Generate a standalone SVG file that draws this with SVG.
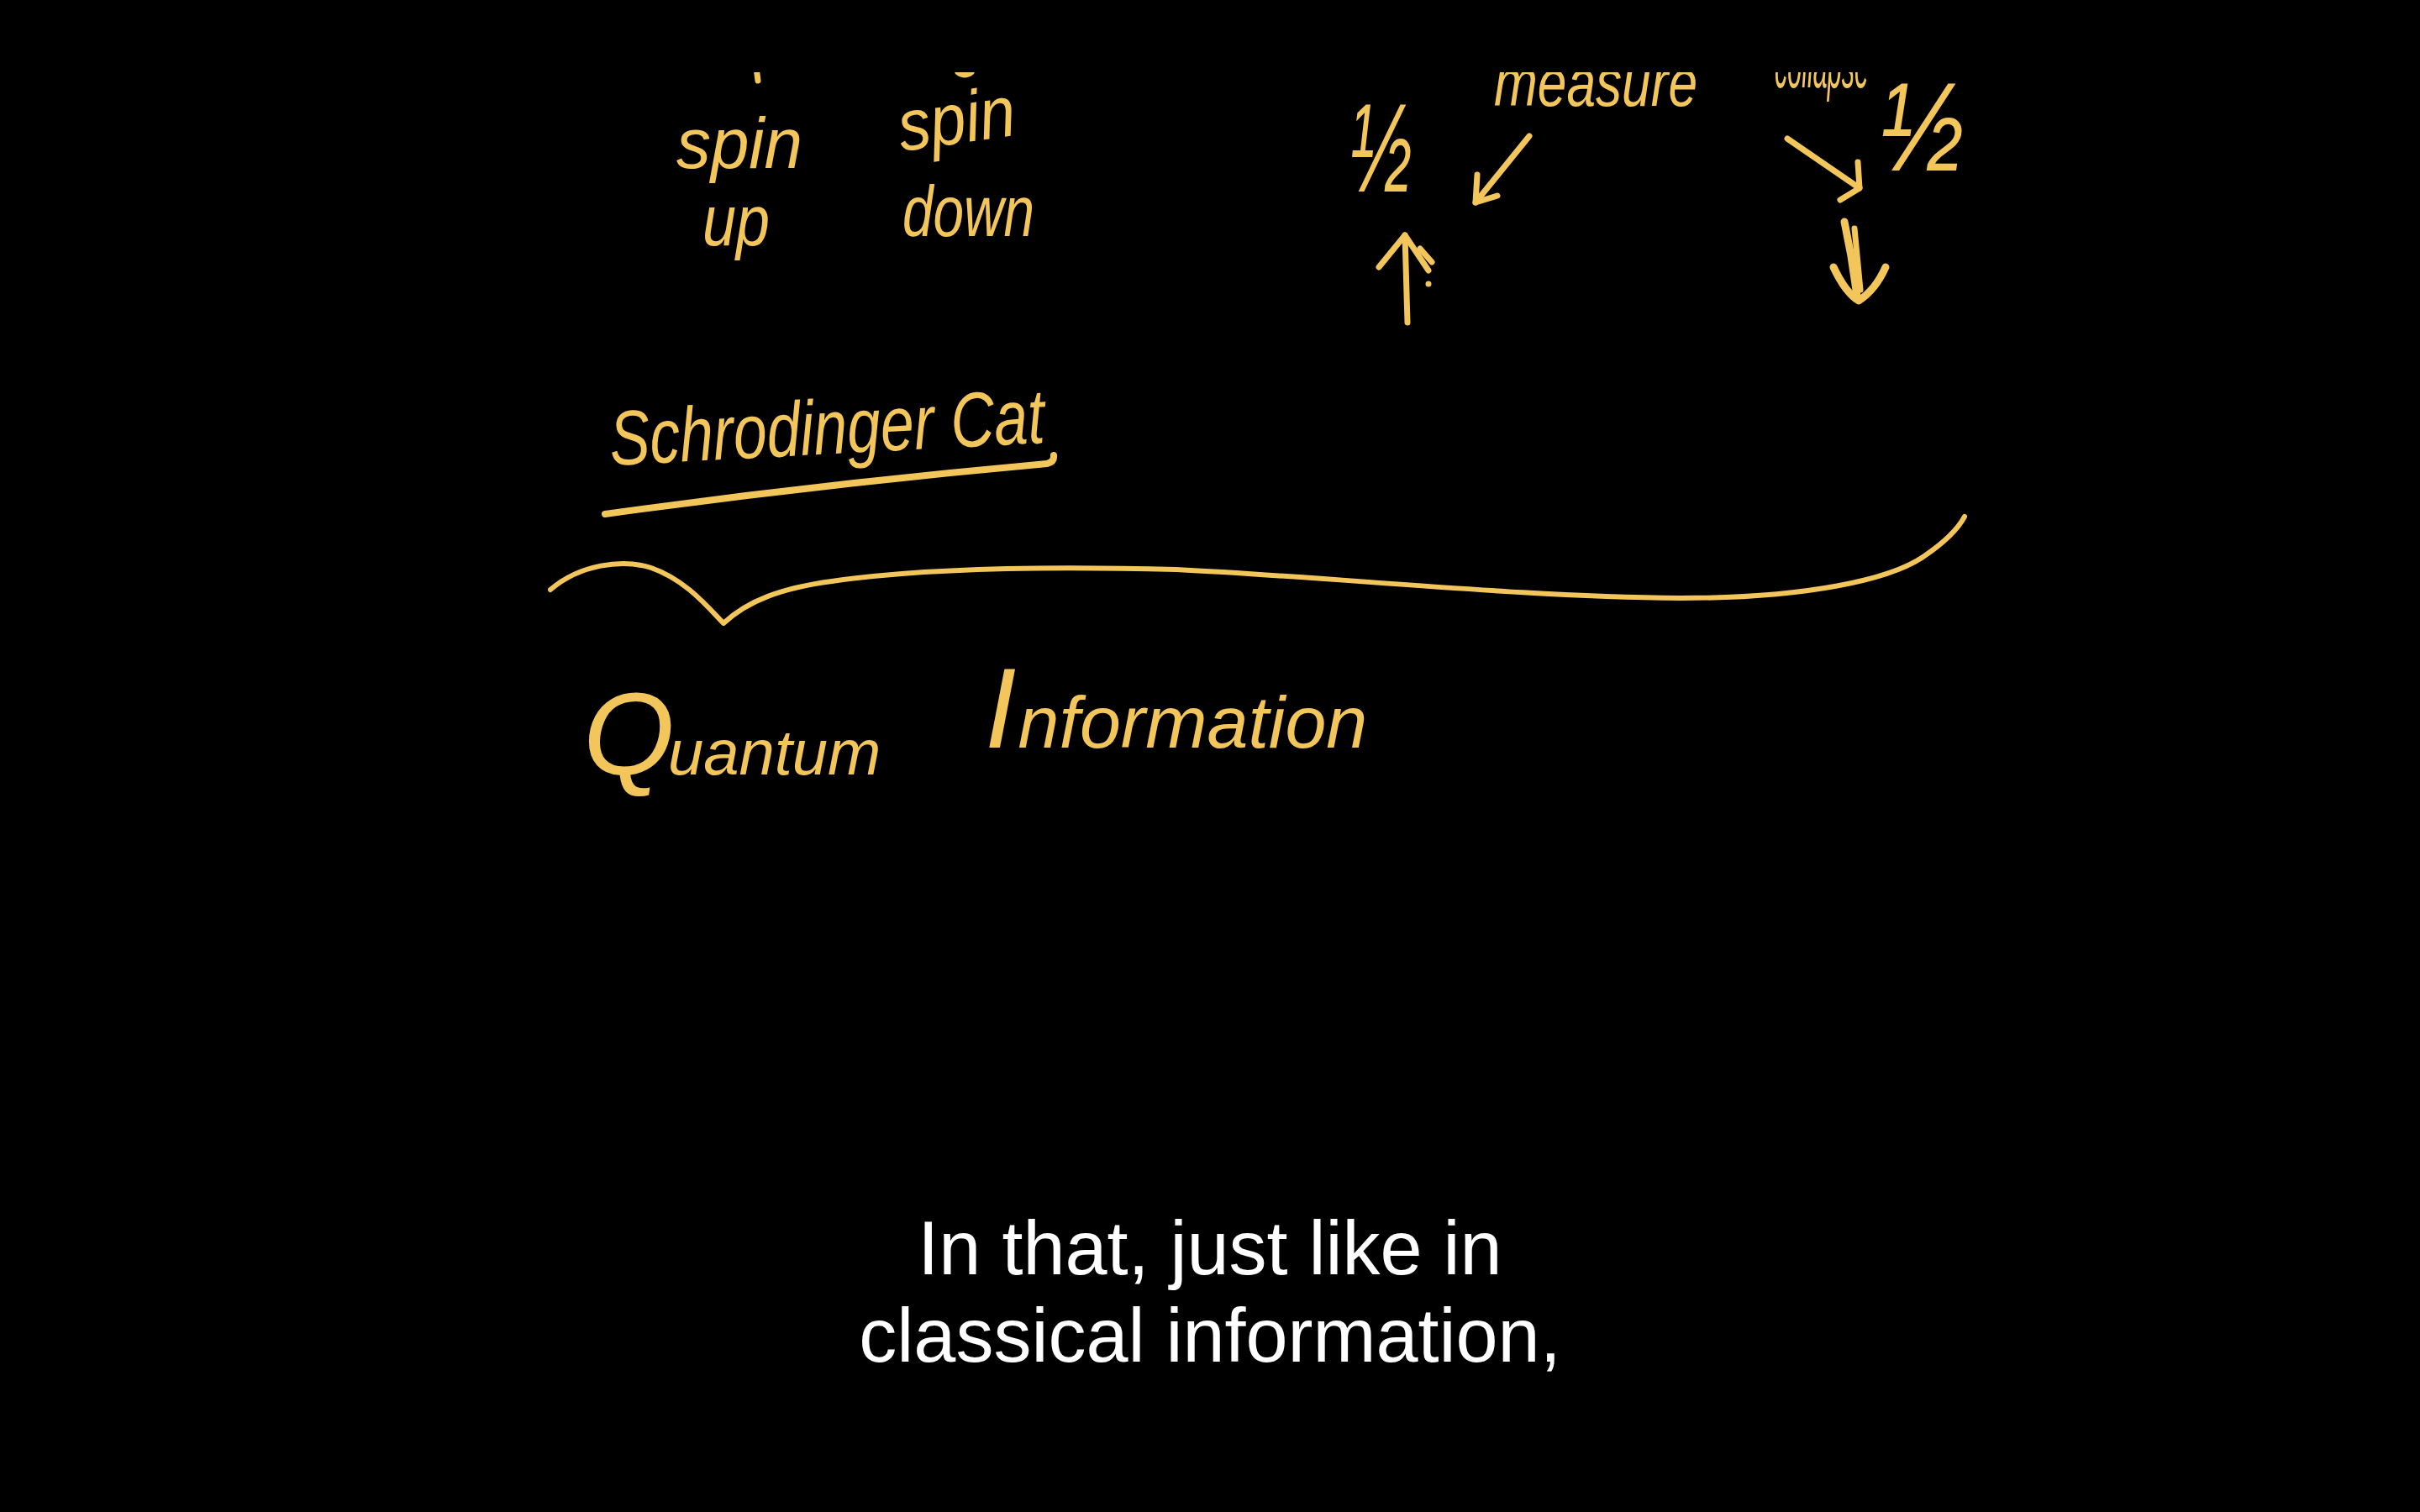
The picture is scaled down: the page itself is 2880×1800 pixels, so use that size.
<svg xmlns="http://www.w3.org/2000/svg" width="2880" height="1800" viewBox="0 0 2880 1800">
<defs>
<style>
.hw{fill:#F2C65A;font-family:"Liberation Sans","DejaVu Sans",sans-serif;font-style:italic;}
.st{fill:none;stroke:#F2C65A;stroke-width:7;stroke-linecap:round;stroke-linejoin:round;}
.sub{fill:#FFFFFF;font-family:"Liberation Sans",Arial,sans-serif;font-size:90px;text-anchor:middle;}
</style>
<clipPath id="board"><rect x="0" y="86" width="2880" height="1714"/></clipPath>
</defs>
<rect width="2880" height="1800" fill="#000000"/>
<g id="board-content" clip-path="url(#board)">
  <g id="top-fragments">
    <path class="st" d="M900,80 L902,96"/>
    <path class="st" d="M1140,86 Q1148,92 1156,86"/>
    <text class="hw" x="1778" y="126" font-size="80" textLength="242" lengthAdjust="spacingAndGlyphs">measure</text>
    <text class="hw" x="2112" y="104" font-size="80" textLength="112" lengthAdjust="spacingAndGlyphs">collapse</text>
  </g>
  <g id="spin-up">
    <text class="hw" x="805" y="200" font-size="86" textLength="150" lengthAdjust="spacingAndGlyphs">spin</text>
    <text class="hw" x="836" y="292" font-size="86" textLength="80" lengthAdjust="spacingAndGlyphs">up</text>
  </g>
  <g id="spin-down">
    <text class="hw" x="1073" y="180" font-size="86" textLength="140" lengthAdjust="spacingAndGlyphs" transform="rotate(-8 1073 180)">spin</text>
    <text class="hw" x="1074" y="281" font-size="86" textLength="157" lengthAdjust="spacingAndGlyphs">down</text>
  </g>
  <g id="half-left">
    <text class="hw" x="1607" y="228" font-size="150" textLength="74" lengthAdjust="spacingAndGlyphs">½</text>
  </g>
  <g id="half-right">
    <text class="hw" x="2238" y="203" font-size="150" textLength="100" lengthAdjust="spacingAndGlyphs">½</text>
  </g>
  <g id="up-arrow">
    <path class="st" d="M1675,384 L1672,280"/>
    <path class="st" d="M1641,318 L1672,280 L1700,322"/>
    <path class="st" d="M1690,296 L1704,312"/>
    <circle cx="1700" cy="338" r="3.5" fill="#F2C65A"/>
  </g>
  <g id="down-arrow">
    <path class="st" style="stroke-width:9" d="M2195,264 L2203,305 L2210,352"/>
    <path class="st" d="M2207,272 L2214,345"/>
    <path class="st" style="stroke-width:9" d="M2182,318 Q2196,348 2212,358 Q2232,345 2244,318"/>
  </g>
  <g id="connectors">
    <path class="st" d="M1820,162 L1756,241"/>
    <path class="st" d="M1758,208 L1756,241 L1782,233"/>
    <path class="st" d="M2127,165 L2213,224"/>
    <path class="st" d="M2211,193 L2213,224 L2190,238"/>
  </g>
  <g id="schrodinger-cat">
    <text class="hw" x="727" y="554" font-size="92" textLength="518" lengthAdjust="spacingAndGlyphs" transform="rotate(-3 727 554)">Schrodinger Cat</text>
    <path class="st" style="stroke-width:8" d="M720,612 Q980,576 1246,552 Q1255,550 1254,542"/>
  </g>
  <g id="divider">
    <path class="st" style="stroke-width:6" d="M655,702 C690,672 740,665 775,676 C815,690 840,720 861,742 C890,715 930,700 990,692 C1100,676 1250,674 1400,678 C1600,688 1800,710 2000,712 C2150,712 2250,690 2290,662 C2315,645 2330,630 2338,615"/>
  </g>
  <g id="quantum-information">
    <text class="hw" x="694" y="922"><tspan font-size="140">Q</tspan><tspan font-size="76" dx="-8">uantum</tspan></text>
    <text class="hw" x="1172" y="890"><tspan font-size="135">I</tspan><tspan font-size="88" dx="2">nformation</tspan></text>
  </g>
</g>
<g id="subtitle">
  <text class="sub" x="1440" y="1517">In that, just like in</text>
  <text class="sub" x="1440" y="1621">classical information,</text>
</g>
</svg>
